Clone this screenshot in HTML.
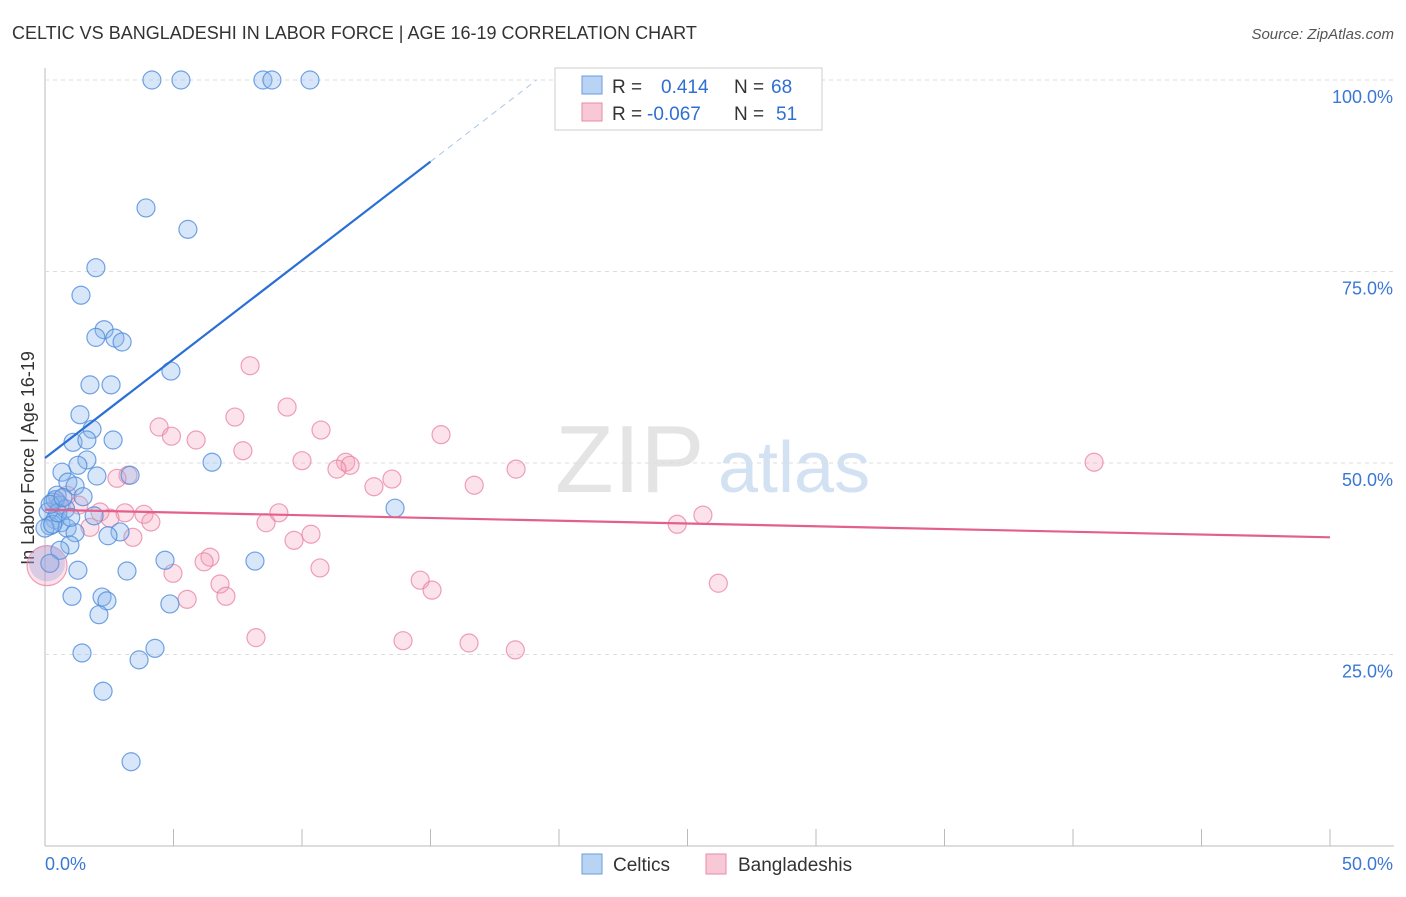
<!DOCTYPE html>
<html><head><meta charset="utf-8"><style>
body{margin:0;background:#fff;font-family:"Liberation Sans",sans-serif;}
svg text{font-family:"Liberation Sans",sans-serif;}
</style></head><body>
<svg id="chart" width="1406" height="892">
<text x="12" y="39" font-size="18" fill="#333">CELTIC VS BANGLADESHI IN LABOR FORCE | AGE 16-19 CORRELATION CHART</text>
<text x="1394" y="39" font-size="15" fill="#555" font-style="italic" text-anchor="end">Source: ZipAtlas.com</text>
<text x="555" y="492" font-size="96" fill="#e4e4e4" font-family="Liberation Serif">ZIP</text>
<text x="718" y="492" font-size="72" fill="#d3e2f3">atlas</text>
<text transform="translate(34,458) rotate(-90)" font-size="18" fill="#333" text-anchor="middle">In Labor Force | Age 16-19</text>
<g id="grid"></g><g id="marks"></g>
<g>
<rect x="555" y="68" width="267" height="62" fill="#fff" stroke="#ccc"/>
<rect x="582" y="76" width="20" height="18" fill="#b8d3f3" stroke="#6b9de0"/>
<rect x="582" y="103" width="20" height="18" fill="#f9c8d6" stroke="#e88aa6"/>
<text x="612" y="93" font-size="19" fill="#333">R = <tspan fill="#2f6fd1" x="661">0.414</tspan><tspan fill="#333" x="734">N =</tspan><tspan fill="#2f6fd1" x="771">68</tspan></text>
<text x="612" y="120" font-size="19" fill="#333">R = <tspan fill="#2f6fd1" x="647">-0.067</tspan><tspan fill="#333" x="734">N =</tspan><tspan fill="#2f6fd1" x="776">51</tspan></text>
</g>
<g>
<rect x="582" y="854" width="20" height="20" fill="#b8d3f3" stroke="#6b9de0"/>
<text x="613" y="871" font-size="19" fill="#333">Celtics</text>
<rect x="706" y="854" width="20" height="20" fill="#f9c8d6" stroke="#e88aa6"/>
<text x="738" y="871" font-size="19" fill="#333">Bangladeshis</text>
</g>
</svg>
<script>
const xTicks=[0,5,10,15,20,25,30,35,40,45,50];
const yTicks=[25,50,75,100];
const yTickLabels=["25.0%","50.0%","75.0%","100.0%"];
const celticX=[4.16,5.29,8.48,8.83,10.31,3.93,5.56,1.98,1.40,2.30,1.98,2.72,3.0,4.9,1.75,2.57,1.36,1.83,1.09,1.63,2.65,1.63,1.28,0.66,3.31,6.5,2.02,0.89,1.17,1.48,0.47,0.31,0.58,13.62,0.12,1.91,0.39,0.62,0.19,0.86,1.17,2.92,2.45,0.97,0.58,4.67,8.17,0.19,1.28,3.19,1.05,2.22,2.41,4.86,2.10,4.28,1.44,3.66,2.26,3.35,0,0.4,0.8,0.3,0.5,0.2,1.0,0.7];
const celticY=[100,100,100,100,100,83.3,80.5,75.5,71.9,67.4,66.4,66.3,65.8,62.0,60.2,60.2,56.3,54.4,52.7,53.0,53.0,50.4,49.7,48.8,48.4,50.1,48.3,47.5,47.0,45.6,45.8,44.9,44.5,44.1,43.6,43.1,42.6,42.2,41.8,41.5,40.9,41.0,40.5,39.3,38.6,37.3,37.2,36.9,36.0,35.9,32.6,32.5,32.0,31.6,30.2,25.8,25.2,24.3,20.2,11.0,41.5,45.2,44.0,42.0,43.5,44.6,42.9,45.5];
const bangX=[7.98,9.42,7.39,10.74,4.44,4.92,5.88,15.41,7.70,10.0,11.7,11.87,11.36,18.33,40.82,13.5,12.8,16.7,3.23,2.8,0.86,1.32,2.14,3.11,3.85,2.53,4.12,9.1,8.6,25.6,24.6,1.75,10.35,9.69,3.42,6.42,6.19,10.7,4.98,6.81,14.6,15.06,26.2,7.04,5.53,8.21,13.93,16.5,18.3,0.08,0.5];
const bangY=[62.7,57.3,56.0,54.3,54.7,53.5,53.0,53.7,51.6,50.3,50.1,49.7,49.2,49.2,50.1,47.9,46.9,47.1,48.4,48.0,45.8,44.5,43.6,43.5,43.3,42.8,42.3,43.5,42.2,43.2,42.0,41.6,40.7,39.9,40.3,37.7,37.1,36.3,35.6,34.2,34.7,33.4,34.3,32.6,32.2,27.2,26.8,26.5,25.6,36.6,44.8];
const blueTrend=[50.65,2.58];
const pinkTrend=[43.9,-0.072];
const X=v=>45+v/50*1285, Y=v=>846-v*7.66;
const NS="http://www.w3.org/2000/svg";
function mk(p,t,a){const e=document.createElementNS(NS,t);for(const k in a)e.setAttribute(k,a[k]);p.appendChild(e);return e;}
const grid=document.getElementById('grid'),marks=document.getElementById('marks');
let ax=mk(grid,'line',{x1:45,y1:68,x2:45,y2:846,stroke:'#bbb'});

let bx=mk(grid,'line',{x1:45,y1:846,x2:1394,y2:846,stroke:'#bbb'});

yTicks.forEach((t,i)=>{
 const g=mk(grid,'line',{x1:45,y1:Y(t),x2:1394,y2:Y(t),stroke:'#ddd','stroke-dasharray':'4,4'});
 
 const l=mk(grid,'text',{x:1393,y:Y(t)+23,'font-size':18,fill:'#3a78d4','text-anchor':'end'});
 l.textContent=yTickLabels[i];
 
});
xTicks.forEach(t=>{
 const k=mk(grid,'line',{x1:X(t),y1:829,x2:X(t),y2:846,stroke:'#bbb'});
 
});
const xl0=mk(grid,'text',{x:45,y:870,'font-size':18,fill:'#3a78d4'});xl0.textContent='0.0%';

const xl1=mk(grid,'text',{x:1393,y:870,'font-size':18,fill:'#3a78d4','text-anchor':'end'});xl1.textContent='50.0%';

bangX.forEach((x,i)=>{
 const c=mk(marks,'circle',{cx:X(x),cy:Y(bangY[i]),r:i==49?20:9,fill:'rgba(244,160,186,0.3)',stroke:'rgba(232,130,162,0.75)','stroke-width':1.2});
 
});
celticX.forEach((x,i)=>{
 const c=mk(marks,'circle',{cx:X(x),cy:Y(celticY[i]),r:9,fill:'rgba(140,184,236,0.35)',stroke:'rgba(80,140,220,0.8)','stroke-width':1.2});
 
});
const bigB=mk(marks,'circle',{cx:X(0.08),cy:Y(36.9),r:18,fill:'rgba(140,150,220,0.3)',stroke:'none'});

const xEnd=15, yEnd=blueTrend[0]+blueTrend[1]*xEnd, xD=(100-blueTrend[0])/blueTrend[1];
const bl=mk(marks,'line',{x1:X(0),y1:Y(blueTrend[0]),x2:X(xEnd),y2:Y(yEnd),stroke:'#2a6fd6','stroke-width':2.2});

const bd=mk(marks,'line',{x1:X(xEnd),y1:Y(yEnd),x2:X(xD),y2:Y(100),stroke:'#aac4e8','stroke-width':1,'stroke-dasharray':'6,5'});

const pl=mk(marks,'line',{x1:X(0),y1:Y(pinkTrend[0]),x2:X(50),y2:Y(pinkTrend[0]+pinkTrend[1]*50),stroke:'#e4608c','stroke-width':2.2});

</script>
</body></html>
